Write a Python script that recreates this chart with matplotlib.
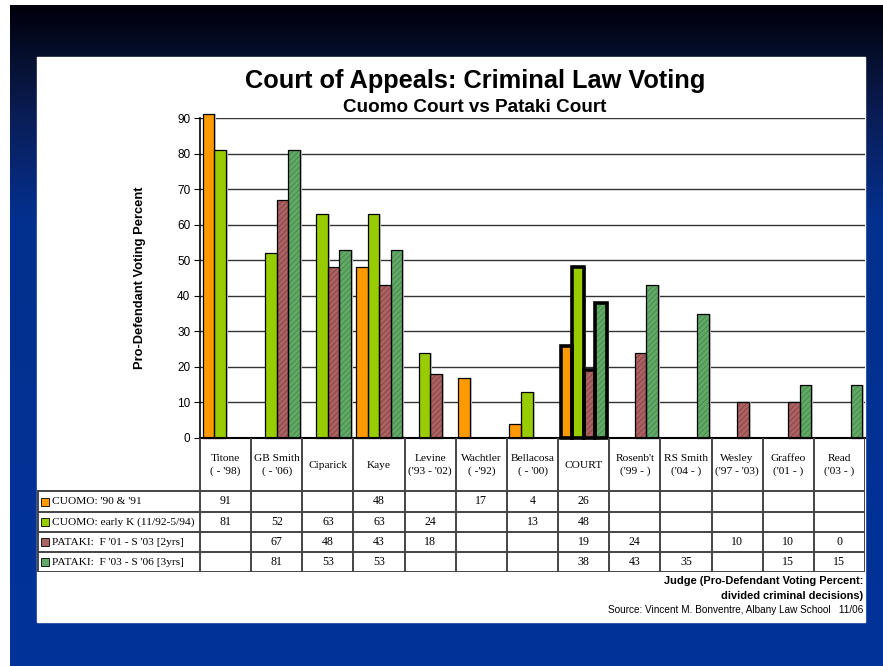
import numpy as np
import matplotlib.pyplot as plt
from matplotlib.colors import LinearSegmentedColormap

nan = np.nan

judges = ["Titone\n( - '98)", "GB Smith\n( - '06)", "Ciparick", "Kaye",
          "Levine\n('93 - '02)", "Wachtler\n( -'92)", "Bellacosa\n( - '00)",
          "COURT", "Rosenb't\n('99 - )", "RS Smith\n('04 - )",
          "Wesley\n('97 - '03)", "Graffeo\n('01 - )", "Read\n('03 - )"]

cuomo_9091 = [91, nan, nan, 48, nan, 17, 4, 26, nan, nan, nan, nan, nan]
cuomo_early = [81, 52, 63, 63, 24, nan, 13, 48, nan, nan, nan, nan, nan]
pataki_0103 = [nan, 67, 48, 43, 18, nan, nan, 19, 24, nan, 10, 10, 0]
pataki_0306 = [nan, 81, 53, 53, nan, nan, nan, 38, 43, 35, nan, 15, 15]

series_names = ["CUOMO: '90 & '91", "CUOMO: early K (11/92-5/94)",
                "PATAKI:  F '01 - S '03 [2yrs]", "PATAKI:  F '03 - S '06 [3yrs]"]
series = [cuomo_9091, cuomo_early, pataki_0103, pataki_0306]
face = ['#ff9900', '#99cc00', '#aa6262', '#62a866']
hatch_col = [None, None, '#8e4444', '#468e4e']

plt.rcParams['hatch.linewidth'] = 0.7

W, H = 883, 666
fig = plt.figure(figsize=(W / 100, H / 100), dpi=100)


def frac(x0, y0, x1, y1):
    return [x0 / W, 1 - y1 / H, (x1 - x0) / W, (y1 - y0) / H]


# slide background
bg = fig.add_axes([0, 0, 1, 1], zorder=-5)
cmap = LinearSegmentedColormap.from_list('slide', [
    (0, '#00000c'), (0.08, '#061030'), (0.18, '#0a1f5c'),
    (0.32, '#03308e'), (1, '#003399')])
grad = np.linspace(0, 1, 300).reshape(-1, 1)
bg.imshow(grad, cmap=cmap, aspect='auto', extent=[10, W, H, 5])
bg.set_xlim(0, W)
bg.set_ylim(H, 0)
bg.add_patch(plt.Rectangle((37, 57), 828, 565, color='white', zorder=2))
bg.axis('off')

fig.text(475 / W, 1 - 81 / H, 'Court of Appeals: Criminal Law Voting',
         ha='center', va='center', fontsize=18.3, fontweight='bold',
         family='Liberation Sans')
fig.text(475 / W, 1 - 108 / H, 'Cuomo Court vs Pataki Court',
         ha='center', va='center', fontsize=13.6, fontweight='bold',
         family='Liberation Sans')

# chart
ax = fig.add_axes(frac(200, 118, 865, 438))
ax.set_facecolor('none')
n = len(judges)
x = np.arange(n)
bw = 0.225
for k, vals in enumerate(series):
    vals = np.array(vals, dtype=float)
    ok = ~np.isnan(vals) & (vals > 0)
    xs = x[ok] + (k - 1.5) * bw
    hs = vals[ok]
    ax.bar(xs + 0.04, hs, bw, color='#c8c8c8', lw=0, zorder=2, clip_on=False)
    if hatch_col[k]:
        ax.bar(xs, hs, bw, color=face[k], edgecolor=hatch_col[k], hatch='//////',
               lw=0, zorder=3, clip_on=False)
    else:
        ax.bar(xs, hs, bw, color=face[k], lw=0, zorder=3, clip_on=False)
    lws = np.where(x[ok] == 7, 2.6, 0.9)
    ax.bar(xs, hs, bw, fill=False, edgecolor='black', lw=lws, zorder=4,
           clip_on=False)

ax.set_xlim(-0.5, n - 0.5)
ax.set_ylim(0, 90)
ax.set_yticks(range(0, 91, 10))
ax.yaxis.grid(True, color='#333333', lw=1)
ax.set_axisbelow(True)
ax.set_xticks([])
for s in ['top', 'right', 'bottom']:
    ax.spines[s].set_visible(False)
ax.spines['left'].set_color('black')
ax.spines['left'].set_linewidth(1.2)
ax.tick_params(axis='y', labelsize=8.5, length=4, pad=3, direction='out')
for t in ax.get_yticklabels():
    t.set_family('Liberation Sans')
ax.axhline(0, color='black', lw=1.5, zorder=5, clip_on=False)
ax.set_ylabel('Pro-Defendant Voting Percent', fontsize=9.3, fontweight='bold',
              family='Liberation Sans', labelpad=22)

# data table
tb = fig.add_axes(frac(37, 438, 865, 572))
tb.set_xlim(37, 865)
tb.set_ylim(572, 438)
tb.axis('off')
cw = (865 - 200) / n
rows_y = [491, 512, 532, 552, 572]
lc = '#444444'
for i in range(n + 1):
    xv = 200 + i * cw
    tb.plot([xv, xv], [438, 572], color=lc, lw=1.4)
tb.plot([38, 38], [491, 572], color=lc, lw=1.4)
for yv in rows_y:
    tb.plot([38, 865], [yv, yv], color=lc, lw=1.4)
for i, lab in enumerate(judges):
    tb.text(200 + (i + 0.5) * cw, 465, lab, ha='center', va='center',
            fontsize=8.2, family='Liberation Serif', linespacing=1.5)
for k, vals in enumerate(series):
    yc = (rows_y[k] + rows_y[k + 1]) / 2
    tb.add_patch(plt.Rectangle((41, yc - 4), 8, 8, facecolor=face[k],
                               edgecolor='black', lw=0.6))
    tb.text(52, yc + 0.5, series_names[k], ha='left', va='center', fontsize=8.2,
            family='Liberation Serif')
    for i, v in enumerate(vals):
        if not np.isnan(v):
            tb.text(200 + (i + 0.5) * cw, yc, '%d' % v, ha='center',
                    va='center', fontsize=8.6, family='Liberation Serif')

fig.text(863 / W, 1 - 581 / H, 'Judge (Pro-Defendant Voting Percent:',
         ha='right', va='center', fontsize=7.9, fontweight='bold',
         family='Liberation Sans')
fig.text(863 / W, 1 - 596 / H, 'divided criminal decisions)',
         ha='right', va='center', fontsize=7.9, fontweight='bold',
         family='Liberation Sans')
fig.text(863 / W, 1 - 610 / H,
         'Source: Vincent M. Bonventre, Albany Law School   11/06',
         ha='right', va='center', fontsize=7.2, family='Liberation Sans')

fig.savefig('out.png', dpi=100)
